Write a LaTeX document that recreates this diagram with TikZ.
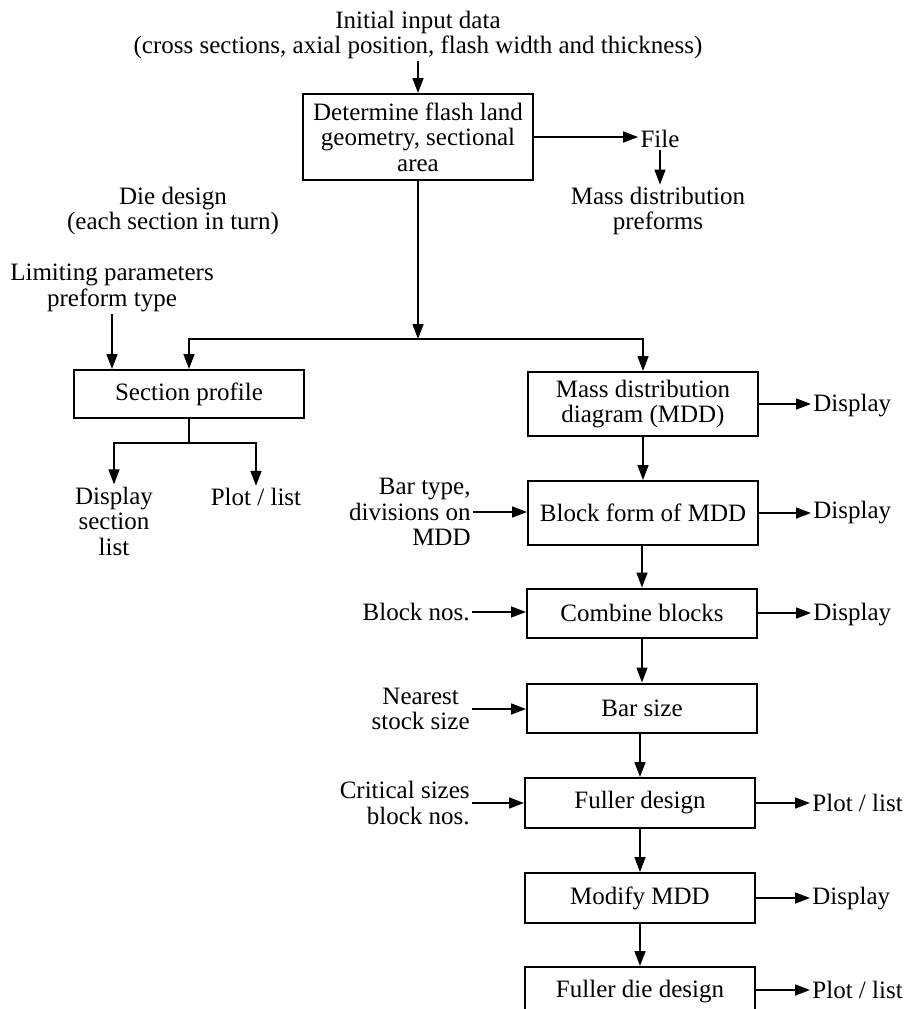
\documentclass[tikz,border=0pt]{standalone}
\usepackage{fontspec}
\setmainfont{Liberation Serif}
\usetikzlibrary{arrows.meta}
\tikzset{
	stage/.style = {draw, line width=1pt, minimum width=115pt, align=center, inner sep=0pt},
	flow/.style = {-{Triangle[length=7.5pt,width=5.5pt]}, line width=0.8pt},
	note/.style = {align=center, inner sep=1pt}
}

\begin{document}
\begin{tikzpicture}[x=0.5pt, y=-0.5pt, font=\fontsize{12.5}{12.75}\selectfont]
	\useasboundingbox (0,0) rectangle (904,1009);

	% top: input data and flash land
	\node[note] (inputdata) at (418,35) {Initial input data\\(cross sections, axial position, flash width and thickness)};
	\node[stage, minimum height=43pt] (flash) at (418,137) {Determine flash land\\geometry, sectional\\area};
	\node[note] (file) at (660,139) {File};
	\node[note] (mdpre) at (658,211) {Mass distribution\\preforms};
	\draw[flow] (inputdata.south) -- (flash.north);
	\draw[flow] (flash.east) -- (flash.east -| file.west);
	\draw[flow] (file.south) -- (file.south |- mdpre.north);

	% die design, left branch
	\node[note] (diedesign) at (173,211) {Die design\\(each section in turn)};
	\node[note] (limit) at (112,288) {Limiting parameters\\preform type};
	\node[stage, minimum height=24pt] (profile) at (189,394) {Section profile};
	\node[note] (dsl) at (114,521) {Display\\section\\list};
	\node[note] (plotlist) at (256,497) {Plot / list};
	\coordinate (split) at (418,339);
	\coordinate (fork) at (189,443);
	\draw[flow] (flash.south) -- (split);
	\draw[flow] (split) -| (profile.north);
	\draw[flow] (limit.south) -- (limit.south |- profile.north);
	\draw[line width=0.8pt] (profile.south) -- (fork);
	\draw[flow] (fork) -| (dsl.north);
	\draw[flow] (fork) -| (plotlist.north);

	% right branch, boxes
	\node[stage, minimum height=32pt] (mdd) at (643,404) {Mass distribution\\diagram (MDD)};
	\node[stage, minimum height=32pt] (block) at (643,513) {Block form of MDD};
	\node[stage, minimum height=24.5pt] (combine) at (642,613) {Combine blocks};
	\node[stage, minimum height=24.5pt] (barsize) at (642,708) {Bar size};
	\node[stage, minimum height=25pt] (fuller) at (640,803) {Fuller design};
	\node[stage, minimum height=25pt] (modify) at (640,898) {Modify MDD};
	\node[stage, minimum height=25pt] (fullerdie) at (640,992) {Fuller die design};
	\draw[flow] (split) -| (mdd.north);
	\draw[flow] (mdd.south) -- (block.north);
	\draw[flow] (combine.north |- block.south) -- (combine.north);
	\draw[flow] (combine.south) -- (barsize.north);
	\draw[flow] (fuller.north |- barsize.south) -- (fuller.north);
	\draw[flow] (fuller.south) -- (modify.north);
	\draw[flow] (modify.south) -- (fullerdie.north);

	% inputs on the left
	\node[note, anchor=east, align=right] (bartype) at (473,512) {Bar type,\\divisions on\\MDD};
	\node[note, anchor=east] (blocknos) at (472,612) {Block nos.};
	\node[note, anchor=east] (nearest) at (472,709) {Nearest\\stock size};
	\node[note, anchor=east, align=right] (critical) at (472,803) {Critical sizes\\block nos.};
	\draw[flow] (bartype.east) -- (bartype.east -| block.west);
	\draw[flow] (blocknos.east) -- (blocknos.east -| combine.west);
	\draw[flow] (nearest.east) -- (nearest.east -| barsize.west);
	\draw[flow] (critical.east) -- (critical.east -| fuller.west);

	% outputs on the right
	\node[note, anchor=west] (disp1) at (811,406) {Display};
	\node[note, anchor=west] (disp2) at (811,513) {Display};
	\node[note, anchor=west] (disp3) at (811,615) {Display};
	\node[note, anchor=west] (plot1) at (810,803) {Plot / list};
	\node[note, anchor=west] (disp4) at (810,899) {Display};
	\node[note, anchor=west] (plot2) at (810,990) {Plot / list};
	\draw[flow] (mdd.east) -- (mdd.east -| disp1.west);
	\draw[flow] (block.east) -- (block.east -| disp2.west);
	\draw[flow] (combine.east) -- (combine.east -| disp3.west);
	\draw[flow] (fuller.east) -- (fuller.east -| plot1.west);
	\draw[flow] (modify.east) -- (modify.east -| disp4.west);
	\draw[flow] (fullerdie.east |- plot2.west) -- (plot2.west);
\end{tikzpicture}
\end{document}
